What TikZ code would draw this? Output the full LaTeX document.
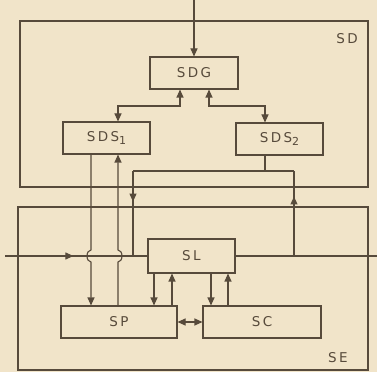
\documentclass[tikz,border=0pt]{standalone}
\usepackage{fontspec}
\setmainfont{DejaVu Sans}[LetterSpace=18]
\usepackage{tikz}
\usetikzlibrary{arrows.meta,decorations.markings}
\definecolor{paper}{HTML}{F1E4C9}
\definecolor{ink}{HTML}{574A3B}
\newcommand{\idx}[1]{\raisebox{-2.5pt}{\fontsize{11}{12}\selectfont #1}}

\begin{document}
\begin{tikzpicture}[
  x=1pt, y=1pt, font=\fontsize{13.5}{15}\selectfont, color=ink, line width=1.1pt,
  blk/.style={draw, rectangle, minimum height=32pt, inner sep=0pt},
  frame/.style={draw, rectangle, inner sep=0pt},
  arr/.style={-{Triangle[length=8pt,width=7pt]}},
  darr/.style={{Triangle[length=8pt,width=7pt]}-{Triangle[length=8pt,width=7pt]}},
  midarr/.style={postaction={decorate}, decoration={markings, mark=at position #1 with {\arrow{Triangle[length=8pt,width=7pt]}}}}
]
  \fill[paper] (0,0) rectangle (377,372);
  \useasboundingbox (0,0) rectangle (377,372);

  % frames
  \node[frame, minimum width=348pt, minimum height=166pt] (sd) at (194,268) {};
  \node[frame, minimum width=350pt, minimum height=163pt] (se) at (193,83.5) {};
  \node (sdlbl) at (347,333) {SD};
  \node (selbl) at (338,14.5) {SE};

  % blocks
  \node[blk, minimum width=88pt] (sdg) at (194,299) {SDG};
  \node[blk, minimum width=87pt] (sds1) at (106.5,234) {SDS\idx{1}};
  \node[blk, minimum width=87pt] (sds2) at (279.5,233) {SDS\idx{2}};
  \node[blk, minimum width=87pt, minimum height=34pt] (sl) at (191.5,116) {SL};
  \node[blk, minimum width=116pt] (sp) at (119,50) {SP};
  \node[blk, minimum width=118pt] (sc) at (262,50) {SC};

  \coordinate (top) at (194,372);
  \coordinate (b1) at (118,266);
  \coordinate (b2) at (265,266);
  \coordinate (inl) at (5,116);
  \coordinate (outr) at (377,116);
  \coordinate (j1) at (265,201);
  \coordinate (j2) at (133,201);
  \coordinate (j3) at (133,116);
  \coordinate (j4) at (294,201);
  \coordinate (j5) at (294,116);
  \coordinate (p1) at (91,116);
  \coordinate (p2) at (118,116);

  \draw[arr] (top) -- (sdg.north);
  \draw[darr] ([xshift=-14pt]sdg.south) |- (b1) -- (b1 |- sds1.north);
  \draw[darr] ([xshift=15pt]sdg.south) |- (b2) -- (b2 |- sds2.north);

  % SDS2 feedback loop
  \draw (sds2.south -| j1) -- (j1);
  \draw (j2) -- (j4);
  \draw[midarr=0.36] (j2) -- (j3);
  \draw[midarr=0.7] (j5) -- (j4);

  \draw[midarr=0.48] (inl) -- (sl.west);
  \draw (sl.east) -- (outr);

  % SDS1 <-> SP, jumping the input line
  \draw[arr] (sds1.south -| p1) -- ([yshift=6pt]p1) arc[start angle=90, end angle=270, x radius=4pt, y radius=6pt] -- (p1 |- sp.north);
  \draw[arr] (sp.north -| p2) -- ([yshift=-6pt]p2) arc[start angle=-90, end angle=90, x radius=4pt, y radius=6pt] -- (p2 |- sds1.south);

  \draw[arr] (sl.south -| 154,0) -- (sp.north -| 154,0);
  \draw[arr] (sp.north -| 172,0) -- (sl.south -| 172,0);
  \draw[arr] (sl.south -| 211,0) -- (sc.north -| 211,0);
  \draw[arr] (sc.north -| 228,0) -- (sl.south -| 228,0);
  \draw[darr] (sp.east) -- (sc.west);
\end{tikzpicture}
\end{document}
